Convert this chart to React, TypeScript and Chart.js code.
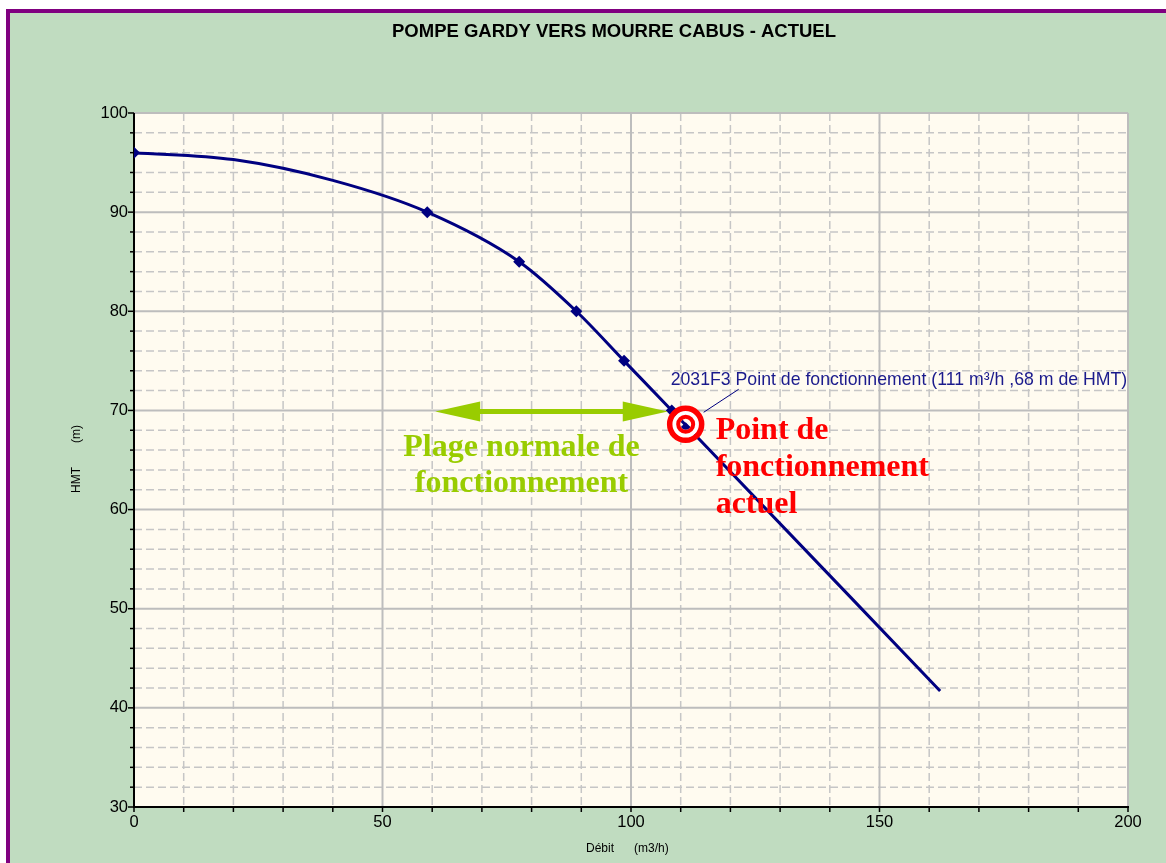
import React, { useEffect, useRef } from "react";
import { Chart, registerables } from "chart.js";

Chart.register(...registerables);

// ---------- data ----------
const TITLE = "POMPE GARDY VERS MOURRE CABUS - ACTUEL";
const X_TITLE = ["Débit", "(m3/h)"];
const Y_TITLE = ["HMT", "(m)"];

const curveQ = [0, 20, 40, 59, 77.5, 89, 98.6, 108.2, 162.2];
const curveH = [96, 95.3, 93.2, 90, 85, 80, 75, 70, 41.7];
const curveMarker = [true, false, false, true, true, true, true, true, false];

const opQ = [111];
const opH = [68.3];
const opLabel = "2031F3 Point de fonctionnement (111 m³/h ,68 m de HMT)";
const opText = ["Point de", "fonctionnement", "actuel"];

const rangeQ = [60.6, 107.4];
const rangeH = [69.9];
const rangeText = ["Plage normale de", "fonctionnement"];

const X_MIN = 0, X_MAX = 200, X_MAJOR = 50, X_MINOR = 10;
const Y_MIN = 30, Y_MAX = 100, Y_MAJOR = 10, Y_MINOR = 2;

const W = 1166, H = 863;
const SANS = "'Liberation Sans', Arial, sans-serif";
const SERIF = "'Liberation Serif', 'Times New Roman', serif";

const decor = {
  id: "decor",
  beforeDraw(chart: any) {
    const { ctx, chartArea: a, scales } = chart;
    const x = scales.x, y = scales.y;
    ctx.save();
    ctx.fillStyle = "#ffffff";
    ctx.fillRect(0, 0, W, H);
    ctx.fillStyle = "#C0DCC0";
    ctx.fillRect(6, 9, W - 6, H - 9);
    ctx.fillStyle = "#800080";
    ctx.fillRect(6, 9, 4, H - 9);
    ctx.fillRect(6, 9, W - 6, 4);
    ctx.fillStyle = "#FFFBF0";
    ctx.fillRect(a.left, a.top, a.right - a.left, a.bottom - a.top);

    const line = (x1: number, y1: number, x2: number, y2: number) => {
      ctx.beginPath();
      ctx.moveTo(x1, y1);
      ctx.lineTo(x2, y2);
      ctx.stroke();
    };
    // minor grid (dashed)
    ctx.strokeStyle = "#C6C6C6";
    ctx.lineWidth = 1.5;
    ctx.setLineDash([8, 4]);
    for (let v = X_MIN + X_MINOR; v < X_MAX; v += X_MINOR) {
      if (v % X_MAJOR === 0) continue;
      const px = x.getPixelForValue(v);
      line(px, a.top, px, a.bottom);
    }
    for (let v = Y_MIN + Y_MINOR; v < Y_MAX; v += Y_MINOR) {
      if (v % Y_MAJOR === 0) continue;
      const py = y.getPixelForValue(v);
      line(a.left, py, a.right, py);
    }
    // major grid (solid)
    ctx.setLineDash([]);
    ctx.strokeStyle = "#BDBDBD";
    ctx.lineWidth = 2;
    for (let v = X_MIN; v <= X_MAX; v += X_MAJOR) {
      const px = x.getPixelForValue(v);
      line(px, a.top, px, a.bottom);
    }
    for (let v = Y_MIN; v <= Y_MAX; v += Y_MAJOR) {
      const py = y.getPixelForValue(v);
      line(a.left, py, a.right, py);
    }
    // axes + ticks
    ctx.strokeStyle = "#000000";
    ctx.lineWidth = 2;
    line(a.left, a.top, a.left, a.bottom + 1);
    line(a.left - 1, a.bottom, a.right + 1, a.bottom);
    ctx.lineWidth = 1.5;
    for (let v = Y_MIN; v <= Y_MAX; v += Y_MINOR) {
      const py = y.getPixelForValue(v);
      const len = v % Y_MAJOR === 0 ? 6 : 4;
      line(a.left - len, py, a.left, py);
    }
    for (let v = X_MIN; v <= X_MAX; v += X_MINOR) {
      const px = x.getPixelForValue(v);
      line(px, a.bottom, px, a.bottom + 5);
    }
    // title
    ctx.fillStyle = "#000000";
    ctx.textAlign = "center";
    ctx.textBaseline = "alphabetic";
    ctx.font = `bold 18.5px ${SANS}`;
    ctx.fillText(TITLE, 614, 37);
    // axis titles
    ctx.font = `12px ${SANS}`;
    ctx.textAlign = "left";
    ctx.fillText(X_TITLE[0], 586, 852);
    ctx.fillText(X_TITLE[1], 634, 852);
    ctx.save();
    ctx.translate(80, 0);
    ctx.rotate(-Math.PI / 2);
    ctx.fillText(Y_TITLE[0], -493, 0);
    ctx.fillText(Y_TITLE[1], -443, 0);
    ctx.restore();
    ctx.restore();
  },
  afterDatasetsDraw(chart: any) {
    const { ctx, scales } = chart;
    const x = scales.x, y = scales.y;
    ctx.save();
    // green double arrow
    const ax1 = x.getPixelForValue(rangeQ[0]);
    const ax2 = x.getPixelForValue(rangeQ[1]);
    const ay = y.getPixelForValue(rangeH[0]);
    const hl = 45, hw = 10;
    ctx.fillStyle = "#99CC00";
    ctx.strokeStyle = "#99CC00";
    ctx.lineWidth = 5;
    ctx.beginPath();
    ctx.moveTo(ax1 + hl - 2, ay);
    ctx.lineTo(ax2 - hl + 2, ay);
    ctx.stroke();
    ctx.beginPath();
    ctx.moveTo(ax1, ay);
    ctx.lineTo(ax1 + hl, ay - hw);
    ctx.lineTo(ax1 + hl, ay + hw);
    ctx.closePath();
    ctx.fill();
    ctx.beginPath();
    ctx.moveTo(ax2, ay);
    ctx.lineTo(ax2 - hl, ay - hw);
    ctx.lineTo(ax2 - hl, ay + hw);
    ctx.closePath();
    ctx.fill();
    // green text
    ctx.font = `bold 32px ${SERIF}`;
    ctx.textAlign = "center";
    ctx.textBaseline = "alphabetic";
    const gcx = (ax1 + ax2) / 2 - 30;
    ctx.fillText(rangeText[0], gcx, ay + 45);
    ctx.fillText(rangeText[1], gcx, ay + 81);

    // operating point
    const ox = x.getPixelForValue(opQ[0]);
    const oy = y.getPixelForValue(opH[0]) - 3;
    // leader line + label
    ctx.strokeStyle = "#000080";
    ctx.lineWidth = 1;
    ctx.beginPath();
    ctx.moveTo(ox + 18, oy - 12);
    ctx.lineTo(ox + 53, oy - 35);
    ctx.stroke();
    ctx.fillStyle = "#1A1A8C";
    ctx.font = `17.7px ${SANS}`;
    ctx.textAlign = "left";
    ctx.fillText(opLabel, ox - 15, oy - 39);
    // target
    ctx.strokeStyle = "#ffffff";
    ctx.lineWidth = 8;
    ctx.beginPath();
    ctx.arc(ox, oy, 9.5, 0, Math.PI * 2);
    ctx.stroke();
    ctx.strokeStyle = "#FF0000";
    ctx.lineWidth = 5.5;
    ctx.beginPath();
    ctx.arc(ox, oy, 16, 0, Math.PI * 2);
    ctx.stroke();
    ctx.lineWidth = 4;
    ctx.beginPath();
    ctx.arc(ox, oy, 7.5, 0, Math.PI * 2);
    ctx.stroke();
    // red text
    ctx.fillStyle = "#FF0000";
    ctx.font = `bold 32px ${SERIF}`;
    ctx.textAlign = "left";
    const rx = ox + 30;
    ctx.fillText(opText[0], rx, oy + 15);
    ctx.fillText(opText[1], rx, oy + 52);
    ctx.fillText(opText[2], rx, oy + 89);
    ctx.restore();
  },
};

export default function App() {
  const ref = useRef<HTMLCanvasElement | null>(null);
  useEffect(() => {
    document.body.style.margin = "0";
    const canvas = ref.current;
    if (!canvas) return;
    const chart = new Chart(canvas, {
      type: "line",
      data: {
        datasets: [
          {
            label: "Courbe pompe",
            data: curveQ.map((q, i) => ({ x: q, y: curveH[i] })),
            borderColor: "#000080",
            backgroundColor: "#000080",
            borderWidth: 3,
            cubicInterpolationMode: "monotone",
            pointStyle: "rectRot",
            pointRadius: curveMarker.map((m) => (m ? 6 : 0)),
            pointBorderWidth: 0,
            pointBackgroundColor: "#000080",
            fill: false,
          },
          {
            label: "Point de fonctionnement",
            data: opQ.map((q, i) => ({ x: q, y: opH[i] })),
            showLine: false,
            pointStyle: "rectRot",
            pointRadius: 5,
            pointBorderWidth: 0,
            pointBackgroundColor: "#000080",
            borderColor: "#000080",
          },
        ],
      },
      options: {
        animation: false,
        responsive: false,
        devicePixelRatio: 1,
        layout: { padding: { left: 74, top: 113, right: 38, bottom: 16 } },
        plugins: {
          legend: { display: false },
          title: { display: false },
          tooltip: { enabled: false },
        },
        scales: {
          x: {
            type: "linear",
            min: X_MIN,
            max: X_MAX,
            grid: { display: false, drawTicks: false },
            border: { display: false },
            ticks: {
              stepSize: X_MAJOR,
              color: "#000",
              padding: 6,
              maxRotation: 0,
              font: { family: SANS, size: 16.5 },
            },
            afterFit: (s: any) => {
              s.height = 40;
            },
          },
          y: {
            type: "linear",
            min: Y_MIN,
            max: Y_MAX,
            grid: { display: false, drawTicks: false },
            border: { display: false },
            ticks: {
              stepSize: Y_MAJOR,
              color: "#000",
              padding: 6,
              font: { family: SANS, size: 16.5 },
            },
            afterFit: (s: any) => {
              s.width = 60;
            },
          },
        },
      },
      plugins: [decor],
    } as any);
    return () => chart.destroy();
  }, []);
  return (
    <canvas
      ref={ref}
      width={W}
      height={H}
      style={{ display: "block", width: W, height: H }}
    />
  );
}
